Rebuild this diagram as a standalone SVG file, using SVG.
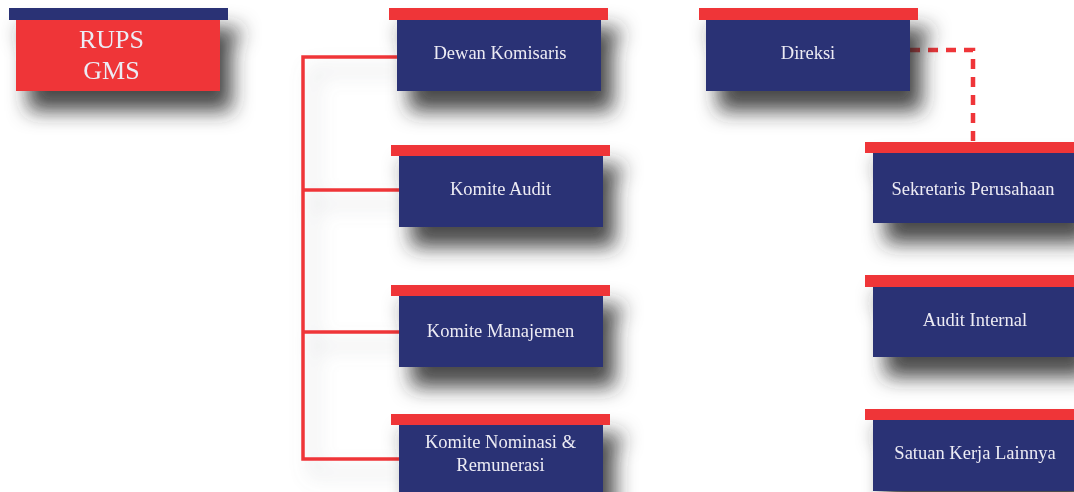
<svg xmlns="http://www.w3.org/2000/svg" width="1074" height="492" viewBox="0 0 1074 492">
<style>
.box{fill:#2c3175}
.bar{fill:#ef3539}
.t{font-family:'Liberation Serif','DejaVu Serif',serif;font-size:18.5px;fill:#ececf4;text-anchor:middle}
.big{font-size:26px}
.node{filter:url(#sh)}
</style>
<defs>
<filter id="sh" x="-30%" y="-50%" width="180%" height="280%" filterUnits="objectBoundingBox">
<feGaussianBlur in="SourceAlpha" stdDeviation="10"/>
<feOffset dx="12" dy="20" result="b"/>
<feFlood flood-color="#2a2a2a" flood-opacity="0.85"/>
<feComposite in2="b" operator="in"/>
<feMerge><feMergeNode/><feMergeNode in="SourceGraphic"/></feMerge>
</filter>
<filter id="lsh" x="-50%" y="-20%" width="200%" height="140%">
<feDropShadow dx="10" dy="14" stdDeviation="10" flood-color="#7a8088" flood-opacity="0.4"/>
</filter>
</defs>
<rect width="1074" height="492" fill="#ffffff"/>
<g id="connectors" fill="none" stroke="#ef3539">
<path d="M397 57 H303 V459 H399 M303 190 H399 M303 332 H399" stroke-width="3.5" filter="url(#lsh)"/>
<path d="M910 50 H973 V142" stroke-width="4.5" stroke-dasharray="10 8"/>
</g>
<g id="rups" class="node">
<rect class="bar" x="16" y="20" width="204" height="71"/>
<rect x="9" y="8" width="219" height="12" fill="#2c3175"/>
<text class="t big" x="111.5" y="48">RUPS</text>
<text class="t big" x="111.5" y="79">GMS</text>
</g>
<g id="dewan-komisaris" class="node">
<rect class="box" x="397" y="20" width="204" height="71"/>
<rect class="bar" x="389" y="8" width="219" height="12"/>
<text class="t" x="500" y="59">Dewan Komisaris</text>
</g>
<g id="komite-audit" class="node">
<rect class="box" x="399" y="156" width="204" height="71"/>
<rect class="bar" x="391" y="145" width="219" height="11"/>
<text class="t" x="500.5" y="195">Komite Audit</text>
</g>
<g id="komite-manajemen" class="node">
<rect class="box" x="399" y="296" width="204" height="71"/>
<rect class="bar" x="391" y="285" width="219" height="11"/>
<text class="t" x="500.5" y="337">Komite Manajemen</text>
</g>
<g id="komite-nominasi" class="node">
<rect class="box" x="399" y="425" width="204" height="71"/>
<rect class="bar" x="391" y="414" width="219" height="11"/>
<text class="t" x="500.5" y="448">Komite Nominasi &amp;</text>
<text class="t" x="500.5" y="471">Remunerasi</text>
</g>
<g id="direksi" class="node">
<rect class="box" x="706" y="20" width="204" height="71"/>
<rect class="bar" x="699" y="8" width="219" height="12"/>
<text class="t" x="808" y="59">Direksi</text>
</g>
<g id="sekretaris-perusahaan" class="node">
<rect class="box" x="873" y="153" width="204" height="70"/>
<rect class="bar" x="865" y="142" width="219" height="11"/>
<text class="t" x="973" y="195">Sekretaris Perusahaan</text>
</g>
<g id="audit-internal" class="node">
<rect class="box" x="873" y="287" width="204" height="70"/>
<rect class="bar" x="865" y="275" width="219" height="12"/>
<text class="t" x="975" y="326">Audit Internal</text>
</g>
<g id="satuan-kerja-lainnya" class="node">
<rect class="box" x="873" y="420" width="204" height="71"/>
<rect class="bar" x="865" y="409" width="219" height="11"/>
<text class="t" x="975" y="459">Satuan Kerja Lainnya</text>
</g>
</svg>
